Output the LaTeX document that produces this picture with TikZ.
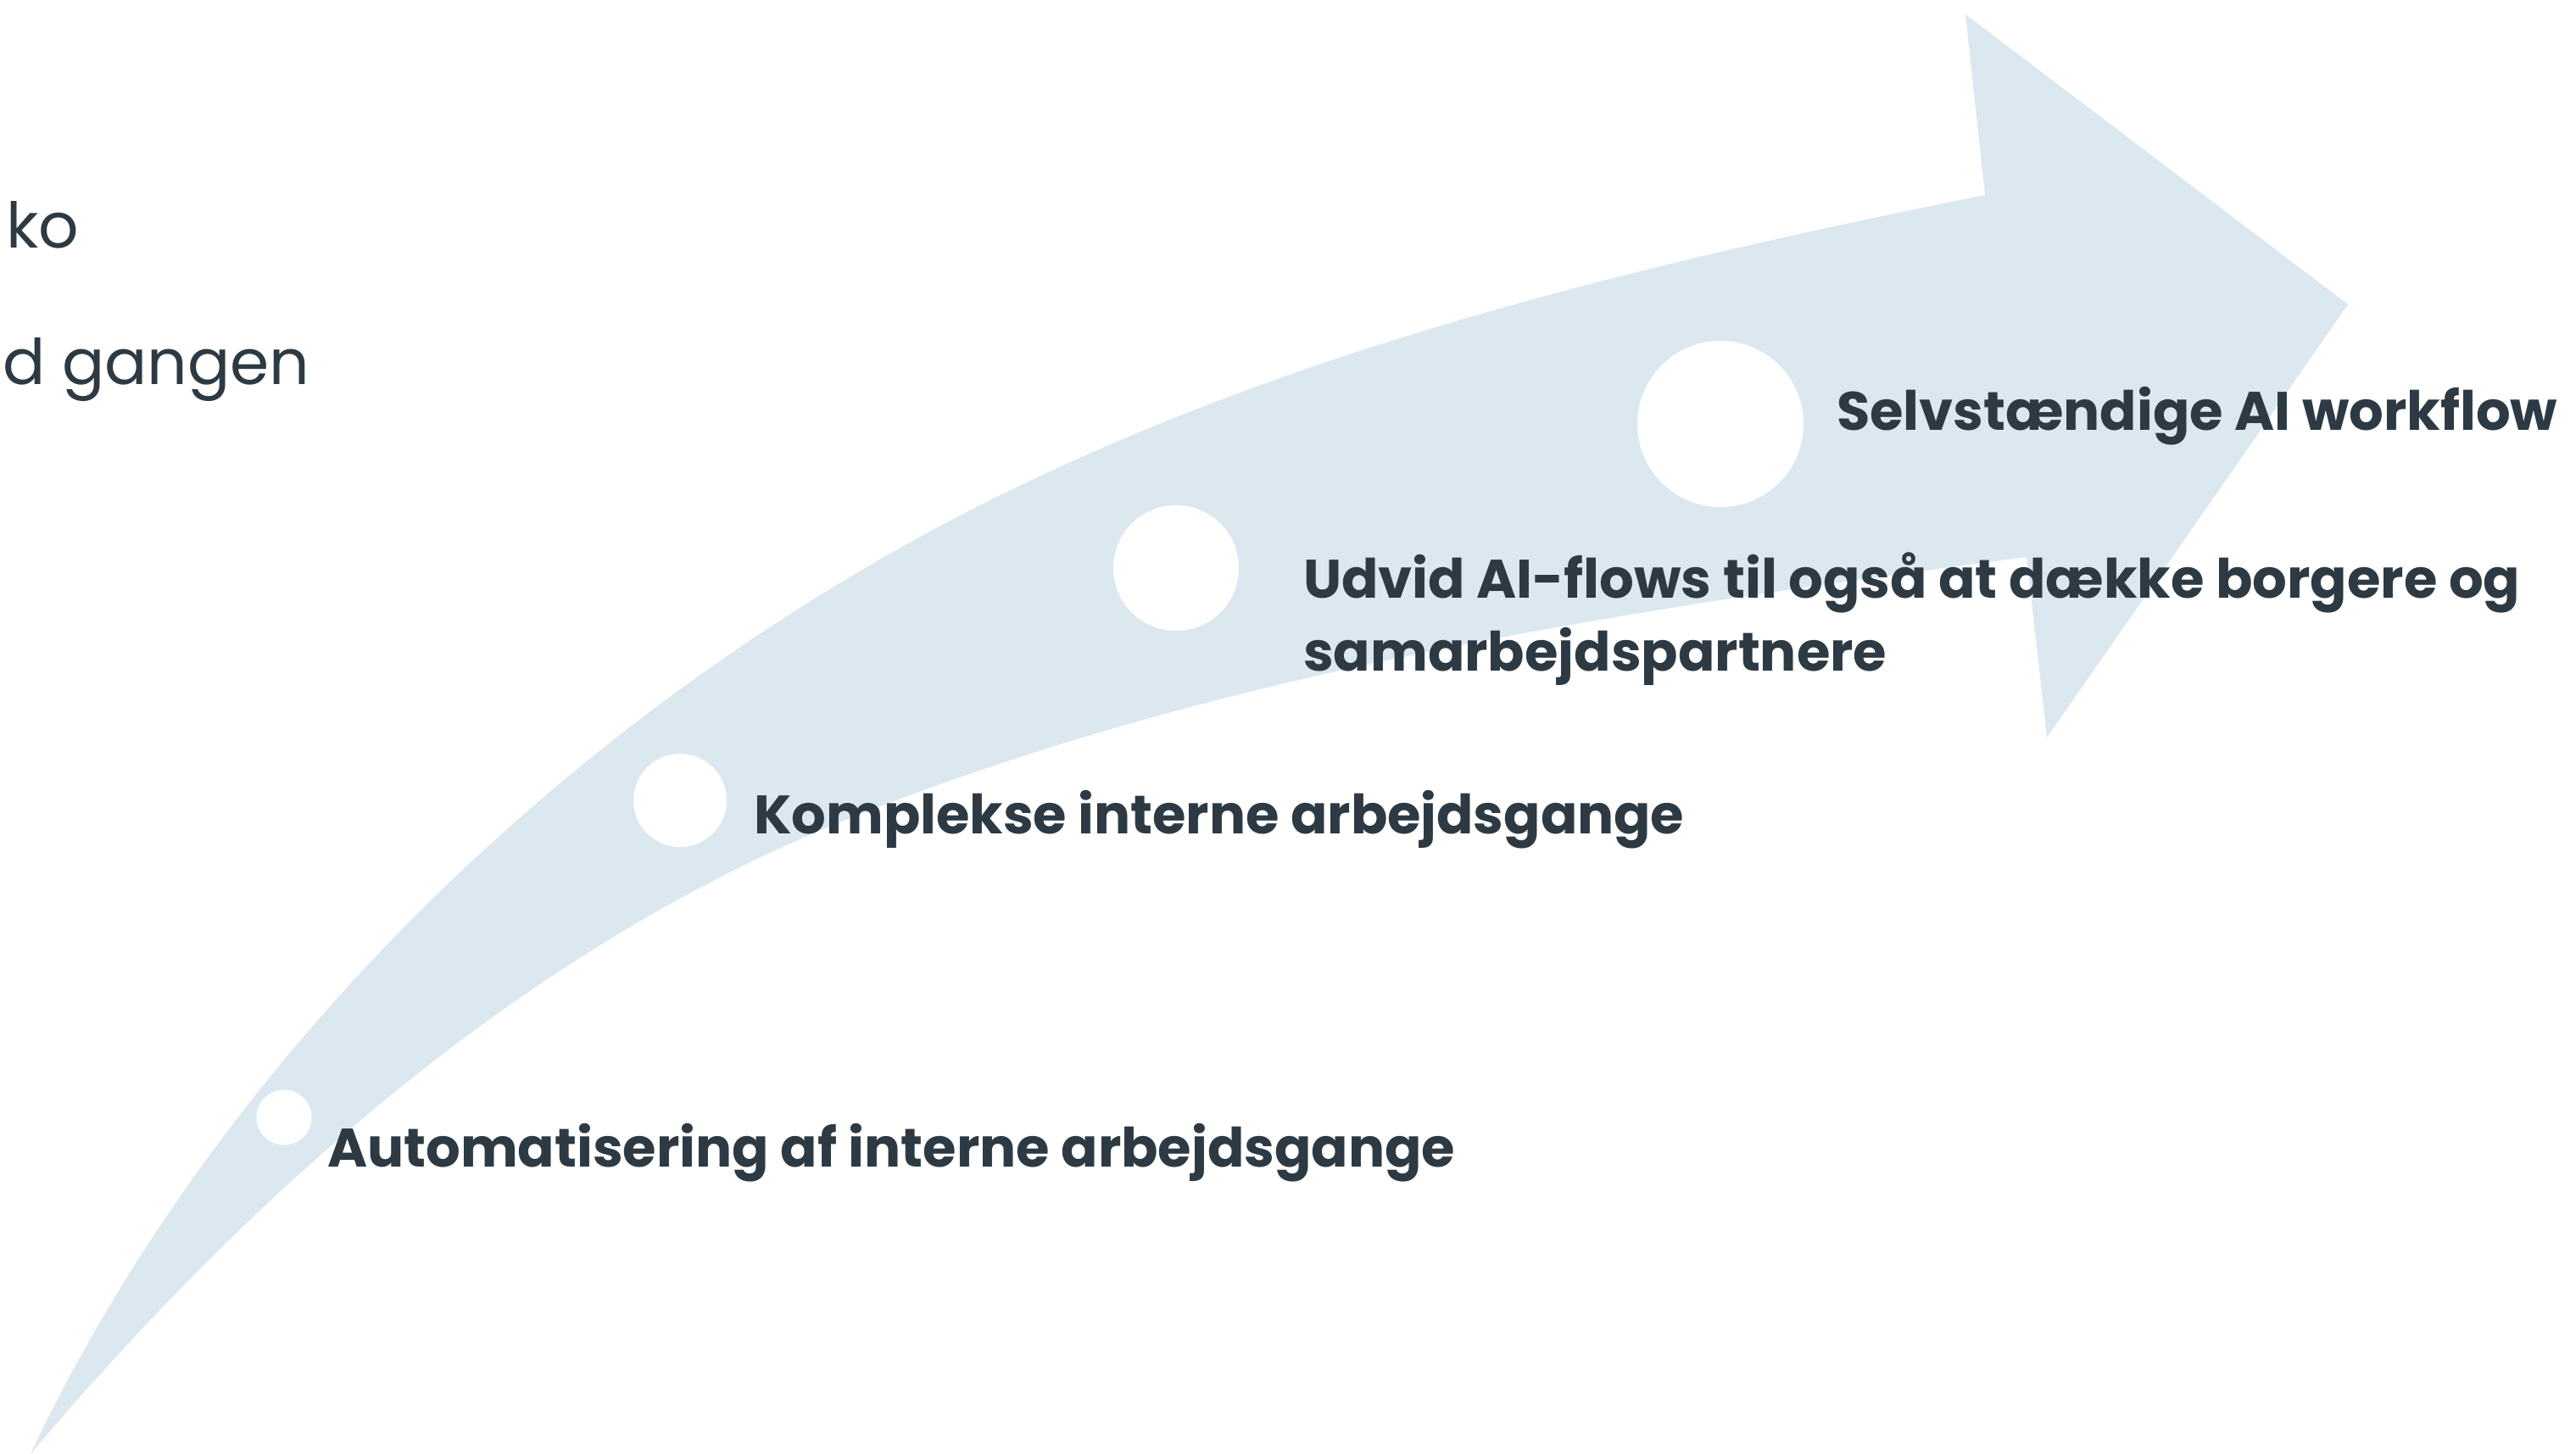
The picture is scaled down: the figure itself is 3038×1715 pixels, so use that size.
\documentclass[tikz,border=0pt]{standalone}
\usepackage{fontspec}
\setmainfont{Poppins}
\definecolor{arrowblue}{HTML}{DCE8F0}
\definecolor{inkc}{HTML}{2D3A43}
\newdimen\fitdim
% store in #1 the font size at which #3 is #2 pt wide
\newcommand\fitsize[3]{\setbox0\hbox{\fontsize{10pt}{12pt}\selectfont #3}\fitdim=\wd0\relax
  \pgfmathsetmacro\fitfs{#2/\fitdim*10}\xdef#1{\fitfs}}
\newcommand\sz[1]{\fontsize{#1 pt}{#1 pt}\selectfont}
\begin{document}
\fitsize{\fsA}{1330}{\bfseries Automatisering af interne arbejdsgange}%
\fitsize{\fsB}{1097}{\bfseries Komplekse interne arbejdsgange}%
\fitsize{\fsC}{1435}{\bfseries Udvid AI-flows til også at dække borgere og}%
\fitsize{\fsD}{850}{\bfseries Selvstændige AI workflow}%
\fitsize{\fsE}{362}{d gangen}%
\begin{tikzpicture}[x=1pt,y=-1pt,
  dot/.style={circle,fill=white,draw=none,inner sep=0pt},
  lbl/.style={anchor=base west,inner sep=0pt,text=inkc,font=\bfseries},
  sidetxt/.style={anchor=base west,inner sep=0pt,text=inkc}]
\useasboundingbox[fill=white] (0,0) rectangle (3038,1715);
% curved arrow
\fill[arrowblue] (36,1715) .. controls (238,1288) and (596,924) .. (1000,682)
  .. controls (1404,439) and (1878,323) .. (2341,230)
  -- (2318,17) -- (2769,359) -- (2414,870) -- (2390,657)
  .. controls (1920,719) and (1441,790) .. (1000,966)
  .. controls (622,1117) and (299,1404) .. (36,1715) -- cycle;
% milestones
\node[dot,minimum size=65pt]  (c1) at (335,1318) {};
\node[dot,minimum size=110pt] (c2) at (802,944) {};
\node[dot,minimum size=148pt] (c3) at (1387,670) {};
\node[dot,minimum size=196pt] (c4) at (2029,500) {};
% labels
\node[lbl] (t1) at (386,1376) {\sz{\fsA}Automatisering af interne arbejdsgange};
\node[lbl] (t2) at (889,983) {\sz{\fsB}Komplekse interne arbejdsgange};
\node[lbl] (t3a) at (1537,705) {\sz{\fsC}Udvid AI-flows til også at dække borgere og};
\node[lbl] (t3b) at (1537,791) {\sz{\fsC}samarbejdspartnere};
\node[lbl] (t4) at (2166,507) {\sz{\fsD}Selvstændige AI workflow};
% cut-off text at the left
\node[sidetxt] (s1) at (7,292) {\sz{\fsE}ko};
\node[sidetxt] (s2) at (3,453) {\sz{\fsE}d gangen};
\end{tikzpicture}
\end{document}
